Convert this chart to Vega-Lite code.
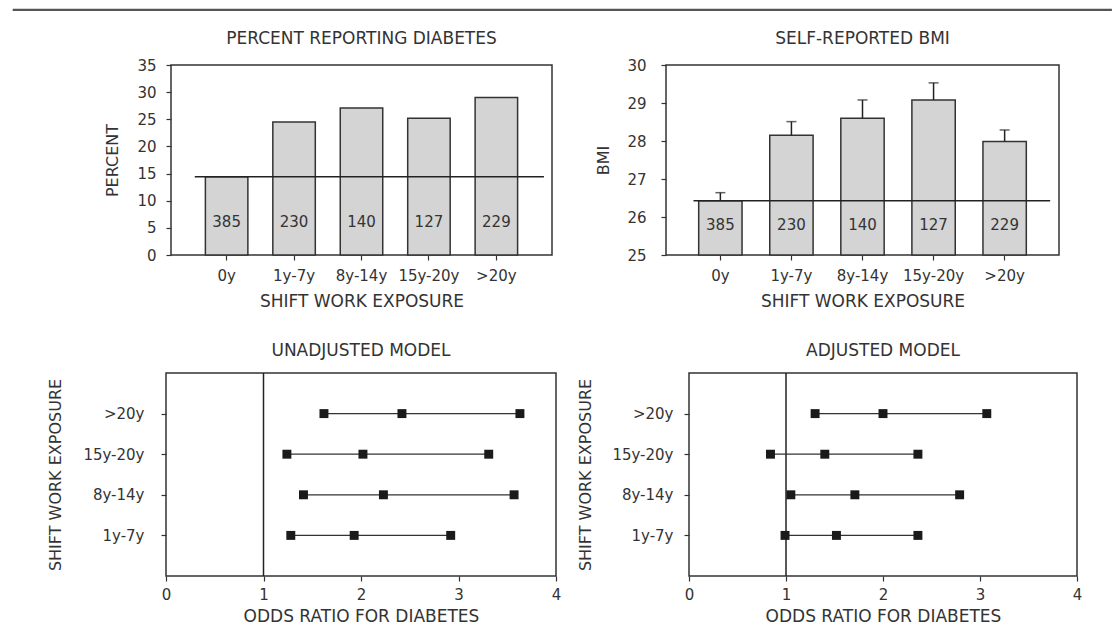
{
  "$schema": "https://vega.github.io/schema/vega-lite/v6.json",
  "background": "white",
  "padding": {"left": 12, "top": 8, "right": 0, "bottom": 0},
  "bounds": "flush",
  "spacing": 55,
  "config": {
    "font": "DejaVu Sans",
    "view": {"stroke": "#333", "strokeWidth": 1.5},
    "axis": {
      "grid": false,
      "domain": false,
      "tickColor": "#333",
      "tickSize": 5,
      "tickWidth": 1.2,
      "labelColor": "#333",
      "labelFontSize": 15,
      "labelOverlap": false,
      "labelFlush": false,
      "titleColor": "#333",
      "titleFontSize": 16,
      "titleFontWeight": "normal"
    },
    "axisX": {"titleFontSize": 17, "labelAngle": 0, "labelPadding": 8, "titlePadding": 6},
    "title": {"fontSize": 17, "fontWeight": "normal", "color": "#333", "offset": 10}
  },
  "datasets": {
    "exposure": [
      {"group": "0y", "n": 385, "pct": 14.4, "bmi": 26.43, "bmiUpper": 26.64},
      {"group": "1y-7y", "n": 230, "pct": 24.5, "bmi": 28.15, "bmiUpper": 28.51},
      {"group": "8y-14y", "n": 140, "pct": 27.1, "bmi": 28.6, "bmiUpper": 29.08},
      {"group": "15y-20y", "n": 127, "pct": 25.2, "bmi": 29.08, "bmiUpper": 29.53},
      {"group": ">20y", "n": 229, "pct": 29.0, "bmi": 27.99, "bmiUpper": 28.29}
    ],
    "odds": [
      {"model": "unadjusted", "group": ">20y", "lower": 1.62, "or": 2.42, "upper": 3.63},
      {"model": "unadjusted", "group": "15y-20y", "lower": 1.24, "or": 2.02, "upper": 3.31},
      {"model": "unadjusted", "group": "8y-14y", "lower": 1.41, "or": 2.23, "upper": 3.57},
      {"model": "unadjusted", "group": "1y-7y", "lower": 1.28, "or": 1.93, "upper": 2.92},
      {"model": "adjusted", "group": ">20y", "lower": 1.3, "or": 2.0, "upper": 3.07},
      {"model": "adjusted", "group": "15y-20y", "lower": 0.84, "or": 1.4, "upper": 2.36},
      {"model": "adjusted", "group": "8y-14y", "lower": 1.05, "or": 1.71, "upper": 2.79},
      {"model": "adjusted", "group": "1y-7y", "lower": 0.99, "or": 1.52, "upper": 2.36}
    ]
  },
  "vconcat": [
    {
      "data": {"values": []},
      "mark": "point",
      "encoding": {},
      "width": 1098,
      "height": 1,
      "view": {"stroke": "#555", "strokeWidth": 1.2}
    },
    {
      "bounds": "flush",
      "spacing": 308,
      "vconcat": [
        {
          "bounds": "flush",
          "spacing": 114,
          "hconcat": [
            {
              "data": {"values": []},
              "mark": "point",
              "encoding": {},
              "width": 44,
              "height": 190,
              "view": {"stroke": null}
            },
            {
              "width": 381,
              "height": 190,
              "title": "PERCENT REPORTING DIABETES",
              "data": {"name": "exposure"},
              "layer": [
                {
                  "mark": {"type": "bar", "fill": "#d4d4d4", "stroke": "#333", "strokeWidth": 1.5},
                  "encoding": {
                    "x": {
                      "field": "group", "type": "nominal", "sort": null,
                      "scale": {"paddingInner": 0.37, "paddingOuter": 0.51},
                      "axis": {"title": "SHIFT WORK EXPOSURE", "titlePadding": 10}
                    },
                    "y": {
                      "field": "pct", "type": "quantitative",
                      "scale": {"domain": [0, 35]},
                      "axis": {"title": "PERCENT", "values": [0, 5, 10, 15, 20, 25, 30, 35], "labelPadding": 10, "titlePadding": 16}
                    }
                  }
                },
                {
                  "mark": {"type": "text", "fontSize": 15, "color": "#333"},
                  "encoding": {
                    "x": {"field": "group", "type": "nominal", "sort": null, "axis": {"title": "SHIFT WORK EXPOSURE", "titlePadding": 10}},
                    "y": {"datum": 6, "type": "quantitative", "axis": {"title": "PERCENT", "values": [0, 5, 10, 15, 20, 25, 30, 35], "labelPadding": 10, "titlePadding": 16}},
                    "text": {"field": "n"}
                  }
                },
                {
                  "transform": [{"filter": "datum.group === '0y'"}],
                  "mark": {"type": "rule", "color": "#222", "strokeWidth": 1.5},
                  "encoding": {
                    "x": {"datum": "0y", "type": "nominal", "bandPosition": -0.25, "axis": {"title": "SHIFT WORK EXPOSURE", "titlePadding": 10}},
                    "x2": {"datum": ">20y", "bandPosition": 1.62},
                    "y": {"field": "pct", "type": "quantitative", "axis": {"title": "PERCENT", "values": [0, 5, 10, 15, 20, 25, 30, 35], "labelPadding": 10, "titlePadding": 16}}
                  }
                }
              ]
            },
            {
              "width": 393,
              "height": 190,
              "title": "SELF-REPORTED BMI",
              "data": {"name": "exposure"},
              "layer": [
                {
                  "mark": {"type": "bar", "fill": "#d4d4d4", "stroke": "#333", "strokeWidth": 1.5},
                  "encoding": {
                    "x": {
                      "field": "group", "type": "nominal", "sort": null,
                      "scale": {"paddingInner": 0.39, "paddingOuter": 0.46},
                      "axis": {"title": "SHIFT WORK EXPOSURE", "titlePadding": 10}
                    },
                    "y": {
                      "field": "bmi", "type": "quantitative",
                      "scale": {"domain": [25, 30], "zero": false},
                      "axis": {"title": "BMI", "values": [25, 26, 27, 28, 29, 30], "labelPadding": 15, "titlePadding": 15}
                    },
                    "y2": {"datum": 25}
                  }
                },
                {
                  "mark": {"type": "rule", "color": "#222", "strokeWidth": 1.5},
                  "encoding": {
                    "x": {"field": "group", "type": "nominal", "sort": null, "axis": {"title": "SHIFT WORK EXPOSURE", "titlePadding": 10}},
                    "y": {"field": "bmi", "type": "quantitative", "axis": {"title": "BMI", "values": [25, 26, 27, 28, 29, 30], "labelPadding": 15, "titlePadding": 15}},
                    "y2": {"field": "bmiUpper"}
                  }
                },
                {
                  "mark": {"type": "tick", "color": "#222", "size": 10, "thickness": 1.5, "orient": "horizontal"},
                  "encoding": {
                    "x": {"field": "group", "type": "nominal", "sort": null, "axis": {"title": "SHIFT WORK EXPOSURE", "titlePadding": 10}},
                    "y": {"field": "bmiUpper", "type": "quantitative", "axis": {"title": "BMI", "values": [25, 26, 27, 28, 29, 30], "labelPadding": 15, "titlePadding": 15}}
                  }
                },
                {
                  "mark": {"type": "text", "fontSize": 15, "color": "#333"},
                  "encoding": {
                    "x": {"field": "group", "type": "nominal", "sort": null, "axis": {"title": "SHIFT WORK EXPOSURE", "titlePadding": 10}},
                    "y": {"datum": 25.8, "type": "quantitative", "axis": {"title": "BMI", "values": [25, 26, 27, 28, 29, 30], "labelPadding": 15, "titlePadding": 15}},
                    "text": {"field": "n"}
                  }
                },
                {
                  "transform": [{"filter": "datum.group === '0y'"}],
                  "mark": {"type": "rule", "color": "#222", "strokeWidth": 1.5},
                  "encoding": {
                    "x": {"datum": "0y", "type": "nominal", "bandPosition": -0.12, "axis": {"title": "SHIFT WORK EXPOSURE", "titlePadding": 10}},
                    "x2": {"datum": ">20y", "bandPosition": 1.55},
                    "y": {"field": "bmi", "type": "quantitative", "axis": {"title": "BMI", "values": [25, 26, 27, 28, 29, 30], "labelPadding": 15, "titlePadding": 15}}
                  }
                }
              ]
            }
          ]
        },
        {
          "bounds": "flush",
          "spacing": 133,
          "hconcat": [
            {
              "data": {"values": []},
              "mark": "point",
              "encoding": {},
              "width": 20,
              "height": 203,
              "view": {"stroke": null}
            },
            {
              "width": 390,
              "height": 203,
              "title": {"text": "UNADJUSTED MODEL", "offset": 12},
              "data": {"name": "odds"},
              "transform": [{"filter": "datum.model === 'unadjusted'"}],
              "layer": [
                {
                  "data": {"values": [{}]},
                  "mark": {"type": "rule", "color": "#222", "strokeWidth": 1.5},
                  "encoding": {"x": {"datum": 1, "type": "quantitative"}}
                },
                {
                  "mark": {"type": "rule", "color": "#333", "strokeWidth": 1.3},
                  "encoding": {
                    "x": {
                      "field": "lower", "type": "quantitative",
                      "scale": {"domain": [0, 4], "nice": false},
                      "axis": {"title": "ODDS RATIO FOR DIABETES", "values": [0, 1, 2, 3, 4], "format": "d", "labelPadding": 6}
                    },
                    "x2": {"field": "upper"},
                    "y": {
                      "field": "group", "type": "ordinal",
                      "sort": [">20y", "15y-20y", "8y-14y", "1y-7y"],
                      "scale": {"type": "point", "padding": 1},
                      "axis": {"title": "SHIFT WORK EXPOSURE", "labelPadding": 17, "titlePadding": 19}
                    }
                  }
                },
                {
                  "transform": [{"fold": ["lower", "or", "upper"], "as": ["stat", "value"]}],
                  "mark": {"type": "square", "size": 80, "color": "#1a1a1a", "opacity": 1},
                  "encoding": {
                    "x": {"field": "value", "type": "quantitative"},
                    "y": {"field": "group", "type": "ordinal", "sort": [">20y", "15y-20y", "8y-14y", "1y-7y"]}
                  }
                }
              ]
            },
            {
              "width": 388,
              "height": 203,
              "title": {"text": "ADJUSTED MODEL", "offset": 12},
              "data": {"name": "odds"},
              "transform": [{"filter": "datum.model === 'adjusted'"}],
              "layer": [
                {
                  "data": {"values": [{}]},
                  "mark": {"type": "rule", "color": "#222", "strokeWidth": 1.5},
                  "encoding": {"x": {"datum": 1, "type": "quantitative"}}
                },
                {
                  "mark": {"type": "rule", "color": "#333", "strokeWidth": 1.3},
                  "encoding": {
                    "x": {
                      "field": "lower", "type": "quantitative",
                      "scale": {"domain": [0, 4], "nice": false},
                      "axis": {"title": "ODDS RATIO FOR DIABETES", "values": [0, 1, 2, 3, 4], "format": "d", "labelPadding": 6}
                    },
                    "x2": {"field": "upper"},
                    "y": {
                      "field": "group", "type": "ordinal",
                      "sort": [">20y", "15y-20y", "8y-14y", "1y-7y"],
                      "scale": {"type": "point", "padding": 1},
                      "axis": {"title": "SHIFT WORK EXPOSURE", "labelPadding": 11, "titlePadding": 18}
                    }
                  }
                },
                {
                  "transform": [{"fold": ["lower", "or", "upper"], "as": ["stat", "value"]}],
                  "mark": {"type": "square", "size": 80, "color": "#1a1a1a", "opacity": 1},
                  "encoding": {
                    "x": {"field": "value", "type": "quantitative"},
                    "y": {"field": "group", "type": "ordinal", "sort": [">20y", "15y-20y", "8y-14y", "1y-7y"]}
                  }
                }
              ]
            }
          ]
        }
      ]
    }
  ]
}
